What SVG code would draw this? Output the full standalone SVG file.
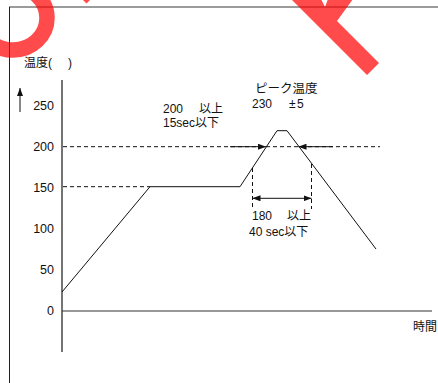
<svg xmlns="http://www.w3.org/2000/svg" width="438" height="383" viewBox="0 0 438 383">
<style>
text{font-family:"Liberation Sans","Noto Sans CJK JP",sans-serif;font-size:12px;fill:#111}
.ax{font-size:12.5px;text-anchor:end}
.dash{stroke:#111;stroke-width:1;stroke-dasharray:4 3;fill:none}
.solid{stroke:#111;stroke-width:1;fill:none}
</style>
<defs>
<marker id="ah" viewBox="0 0 8 6" refX="8" refY="3" markerWidth="8" markerHeight="6" markerUnits="userSpaceOnUse" orient="auto-start-reverse">
<path d="M0,0L8,3L0,6Z" fill="#111"/>
</marker>
</defs>
<rect width="438" height="383" fill="#fff"/>
<g id="frame">
<line x1="9" y1="7" x2="438" y2="7" stroke="#7a7a7a" stroke-width="1.4"/>
<line x1="9.5" y1="7" x2="9.5" y2="383" stroke="#222" stroke-width="1"/>
</g>
<g id="axes">
<line x1="62" y1="80" x2="62" y2="352" stroke="#666" stroke-width="1.8"/>
<line x1="62" y1="311" x2="432" y2="311" stroke="#333" stroke-width="1.2"/>
<line x1="20" y1="112" x2="20" y2="88" class="solid" marker-end="url(#ah)"/>
</g>
<g id="axis-labels">
<text x="24" y="67">温度(<tspan x="68">)</tspan></text>
<text class="ax" x="54" y="110">250</text>
<text class="ax" x="54" y="151">200</text>
<text class="ax" x="54" y="192">150</text>
<text class="ax" x="54" y="233">100</text>
<text class="ax" x="54" y="274">50</text>
<text class="ax" x="54" y="315">0</text>
<text x="413" y="331">時間</text>
</g>
<g id="guides">
<line class="dash" x1="63" y1="146.7" x2="380" y2="146.7"/>
<line class="dash" x1="63" y1="186.7" x2="150" y2="186.7"/>
<line class="dash" x1="252.5" y1="168" x2="252.5" y2="209"/>
<line class="dash" x1="311.5" y1="164" x2="311.5" y2="209"/>
</g>
<g id="profile">
<polyline class="solid" points="62,292 150,186.7 240,186.7 277,130.7 287,130.7 376,249"/>
</g>
<g id="connectors">
<line class="solid" x1="230" y1="146.7" x2="266" y2="146.7" marker-end="url(#ah)"/>
<line class="solid" x1="333" y1="146.7" x2="298.5" y2="146.7" marker-end="url(#ah)"/>
<line class="solid" x1="252.5" y1="198.3" x2="311.5" y2="198.3" marker-start="url(#ah)" marker-end="url(#ah)"/>
</g>
<g id="annotations">
<text x="255" y="93" style="font-size:12.5px">ピーク温度</text>
<text x="252" y="108">230<tspan x="289">±</tspan><tspan x="297">5</tspan></text>
<text x="163" y="112.5">200<tspan x="199">以上</tspan></text>
<text x="163" y="127.3">15sec以下</text>
<text x="252" y="219.5">180<tspan x="287">以上</tspan></text>
<text x="249" y="235.7">40 sec以下</text>
</g>
<g id="watermark" opacity="0.7" fill="#ff0000">
<ellipse cx="13" cy="18" rx="34" ry="32" fill="none" stroke="#ff0000" stroke-width="15.5"/>
<polygon points="82,-1 91,-1 86.5,3.5"/>
<polygon points="291,-1 367,75 379,63 337,21 353,-1 328,-1 325,7 321,-1"/>
</g>
</svg>
